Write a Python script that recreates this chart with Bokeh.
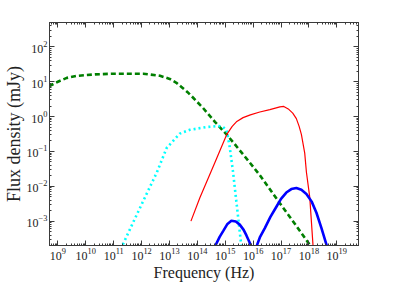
import numpy as np
from bokeh.plotting import figure
from bokeh.models import LogAxis, FixedTicker, Range1d, CustomJSTickFormatter
from bokeh.embed import file_html
from bokeh.resources import INLINE

# ---- data: log10(frequency / Hz), log10(flux / mJy) ----
green_logf = [8.68, 9.0, 9.32, 9.7, 10.33, 11.0, 11.7, 12.06, 12.66, 13.01, 13.25,
              13.43, 13.65, 13.85, 14.2, 14.63, 15.1, 15.4, 15.88, 16.24, 16.96, 17.5, 18.03, 18.3]
green_logF = [0.87, 1.0, 1.11, 1.17, 1.21, 1.23, 1.23, 1.23, 1.17, 1.08, 0.97,
              0.85, 0.70, 0.54, 0.25, -0.15, -0.56, -0.85, -1.32, -1.68, -2.49, -3.08, -3.68, -3.98]

cyan_logf = [11.33, 11.69, 12.12, 12.55, 12.9, 13.37, 13.73, 14.33, 14.75, 14.9,
             15.05, 15.16, 15.28, 15.43, 15.58, 15.62]
cyan_logF = [-3.67, -3.05, -2.32, -1.6, -0.9, -0.49, -0.38, -0.3, -0.27, -0.29,
             -0.38, -0.87, -1.59, -2.66, -3.73, -4.0]

red_logf = [13.77, 14.09, 14.63, 15.05, 15.25, 15.4, 15.64, 15.9, 16.24, 16.6, 16.96,
            17.1, 17.26, 17.42, 17.55, 17.65, 17.73, 17.85, 17.91, 18.03, 18.15]
red_logF = [-3.0, -2.33, -1.32, -0.52, -0.28, -0.15, -0.03, 0.05, 0.13, 0.2, 0.28,
            0.29, 0.22, 0.1, -0.06, -0.28, -0.51, -1.05, -1.59, -2.31, -3.73]

blue1_logf = [14.63, 14.8, 14.93, 15.08, 15.22, 15.38, 15.52, 15.66, 15.76, 15.85, 15.94]
blue1_logF = [-3.73, -3.45, -3.28, -3.08, -2.99, -3.01, -3.10, -3.25, -3.41, -3.57, -3.73]

blue2_logf = [16.12, 16.25, 16.42, 16.62, 16.84, 17.0, 17.19, 17.37, 17.55, 17.73,
              17.91, 18.1, 18.27, 18.45, 18.65]
blue2_logF = [-3.73, -3.45, -3.2, -2.88, -2.58, -2.36, -2.18, -2.08, -2.05, -2.1,
              -2.22, -2.44, -2.76, -3.2, -3.73]

# tick decades shown on the axes
x_tick_exp = list(range(9, 20))
y_tick_exp = list(range(-3, 3))

x_lo, x_hi = 5e8, 6e19
y_lo, y_hi = 2e-4, 500

SERIF = "Liberation Serif"
AX = "#3a3a3a"
TXT = "#222222"


def tolin(a):
    return np.power(10.0, np.asarray(a, dtype=float))


p = figure(width=383, height=283, x_axis_type="log", y_axis_type="log",
           x_range=Range1d(x_lo, x_hi), y_range=Range1d(y_lo, y_hi),
           output_backend="svg", toolbar_location=None,
           min_border_left=0, min_border_right=25, min_border_top=22, min_border_bottom=0)
p.grid.visible = False
p.outline_line_color = AX
p.outline_line_width = 1
p.background_fill_color = "white"
p.border_fill_color = "white"

bottom = p.below[0]
left = p.left[0]

xt = FixedTicker(ticks=[10.0 ** k for k in x_tick_exp],
                 minor_ticks=[m * 10.0 ** k for k in range(x_tick_exp[0] - 1, x_tick_exp[-1] + 1)
                              for m in range(2, 10)])
yt = FixedTicker(ticks=[10.0 ** k for k in y_tick_exp],
                 minor_ticks=[m * 10.0 ** k for k in range(y_tick_exp[0] - 1, y_tick_exp[-1] + 1)
                              for m in range(2, 10)])
bottom.ticker = xt
left.ticker = yt

blank = CustomJSTickFormatter(code="return ''")
top = LogAxis(ticker=xt, formatter=blank)
right = LogAxis(ticker=yt, formatter=blank)
p.add_layout(top, "above")
p.add_layout(right, "right")

for ax in [bottom, left, top, right]:
    ax.axis_line_color = AX
    ax.major_tick_line_color = AX
    ax.minor_tick_line_color = AX
    ax.major_tick_in = 5
    ax.major_tick_out = 0
    ax.minor_tick_in = 2
    ax.minor_tick_out = 0
    ax.major_label_text_font = SERIF
    ax.major_label_text_color = TXT
    ax.major_label_text_font_size = "12px"
    ax.major_label_standoff = 2
    ax.axis_label_text_font = SERIF
    ax.axis_label_text_font_style = "normal"
    ax.axis_label_text_color = TXT
    ax.axis_label_standoff = 1
for ax in [top, right]:
    ax.major_label_text_font_size = "0px"
    ax.major_label_standoff = 0

bottom.axis_label = "Frequency (Hz)"
bottom.axis_label_text_font_size = "16px"
left.axis_label = "Flux density (mJy)"
left.axis_label_text_font_size = "18px"
left.axis_label_standoff = 0

p.line(tolin(green_logf), tolin(green_logF), color="#007f00", line_width=2.6,
       line_dash="5 3")
p.line(tolin(cyan_logf), tolin(cyan_logF), color="#00ffff", line_width=2.6,
       line_dash="2 3")
p.line(tolin(red_logf), tolin(red_logF), color="#ff0000", line_width=1.2)
p.line(tolin(blue1_logf), tolin(blue1_logF), color="#0000ff", line_width=2.6)
p.line(tolin(blue2_logf), tolin(blue2_logF), color="#0000ff", line_width=2.6)

open("out.html", "w").write(file_html(p, INLINE))
